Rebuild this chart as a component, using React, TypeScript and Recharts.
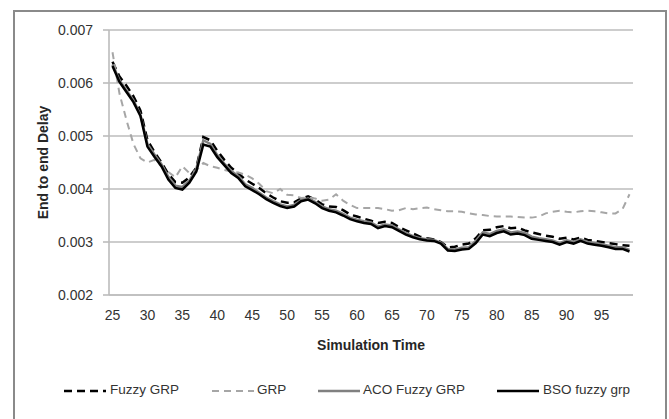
import { LineChart, Line, XAxis, YAxis, CartesianGrid, Legend } from 'recharts'

const times = [
  25, 26, 27, 28, 29, 30, 31, 32, 33, 34, 35, 36, 37, 38, 39, 40, 41, 42, 43, 44, 45, 46, 47, 48, 49,
  50, 51, 52, 53, 54, 55, 56, 57, 58, 59, 60, 61, 62, 63, 64, 65, 66, 67, 68, 69, 70, 71, 72, 73, 74,
  75, 76, 77, 78, 79, 80, 81, 82, 83, 84, 85, 86, 87, 88, 89, 90, 91, 92, 93, 94, 95, 96, 97, 98, 99,
]

const fuzzyGrp = [
  0.0064, 0.00612, 0.00595, 0.00575, 0.00548, 0.00492, 0.0047, 0.0045, 0.00428, 0.00413,
  0.00412, 0.00422, 0.0044, 0.00498, 0.00492, 0.00472, 0.00455, 0.0044, 0.0043, 0.00418,
  0.0041, 0.00402, 0.00392, 0.00384, 0.00377, 0.00374, 0.00375, 0.00382, 0.00386, 0.0038,
  0.00371, 0.00367, 0.00366, 0.0036, 0.00352, 0.00348, 0.00344, 0.0034, 0.00336, 0.00338,
  0.00336, 0.00328, 0.00322, 0.00316, 0.0031, 0.00307, 0.00305, 0.003, 0.0029, 0.00291,
  0.00295, 0.00297, 0.00307, 0.00322, 0.00323, 0.00328, 0.0033, 0.00326, 0.00327, 0.00322,
  0.00318, 0.00315, 0.00312, 0.0031, 0.00306, 0.00308, 0.00305, 0.00308, 0.00304, 0.00302,
  0.003, 0.00298, 0.00296, 0.00294, 0.00293,
]

const grp = [
  0.00658, 0.0058, 0.0053, 0.00485, 0.00458, 0.0045, 0.00455, 0.00443, 0.00432, 0.00422,
  0.00443, 0.0043, 0.00435, 0.00449, 0.00443, 0.0044, 0.00436, 0.00433, 0.00431, 0.00427,
  0.0042, 0.0041, 0.00396, 0.00392, 0.004, 0.00389, 0.00388, 0.00383, 0.00384, 0.00382,
  0.00378, 0.0038, 0.0039, 0.00378, 0.0037, 0.00364, 0.00364, 0.00364, 0.00364, 0.00362,
  0.00359, 0.0036, 0.00364, 0.00362, 0.00364, 0.00365, 0.00362, 0.0036, 0.00358, 0.00358,
  0.00357, 0.00354, 0.00352, 0.00351, 0.00349, 0.00348, 0.00348, 0.00348, 0.00347, 0.00346,
  0.00346, 0.00348, 0.00354, 0.00357, 0.00359, 0.00357, 0.00356, 0.00358, 0.00359, 0.00358,
  0.00356, 0.00354, 0.00354, 0.00362, 0.0039,
]

const acoFuzzyGrp = [
  0.00635, 0.00605, 0.00586, 0.00567, 0.0054, 0.00485, 0.00465, 0.00447, 0.00423, 0.00406,
  0.00404, 0.00416, 0.00438, 0.00492, 0.00485, 0.00464, 0.00448, 0.00434, 0.00424, 0.00409,
  0.00402, 0.00393, 0.00384, 0.00377, 0.00371, 0.00367, 0.0037, 0.00379, 0.00382, 0.00376,
  0.00367, 0.00362, 0.00359, 0.00353, 0.00346, 0.00342, 0.00339, 0.00337, 0.00329, 0.00333,
  0.00331, 0.00324, 0.00317, 0.00311, 0.00307, 0.00305, 0.00304, 0.00299, 0.00287, 0.00286,
  0.00289, 0.0029, 0.00302, 0.00318, 0.00315, 0.00321, 0.00324, 0.00318, 0.0032, 0.00317,
  0.0031, 0.00307, 0.00305, 0.00303, 0.00298, 0.00303, 0.003, 0.00305, 0.003, 0.00298,
  0.00296, 0.00293, 0.0029, 0.0029, 0.00285,
]

const bsoFuzzyGrp = [
  0.00632, 0.00602, 0.00583, 0.00564, 0.00538, 0.0048, 0.00461, 0.00443, 0.00418, 0.00402,
  0.00399, 0.00412, 0.00433, 0.00484, 0.0048, 0.0046, 0.00445, 0.0043, 0.00421, 0.00405,
  0.00398, 0.0039, 0.00381, 0.00374, 0.00368, 0.00364, 0.00367, 0.00377, 0.0038, 0.00373,
  0.00364, 0.00359, 0.00356, 0.0035, 0.00343, 0.00339, 0.00336, 0.00334, 0.00326, 0.0033,
  0.00328, 0.00321, 0.00314, 0.00309, 0.00305, 0.00303, 0.00302, 0.00297, 0.00284, 0.00283,
  0.00286, 0.00287, 0.00298, 0.00314, 0.00311, 0.00317, 0.0032, 0.00314, 0.00316, 0.00313,
  0.00306, 0.00304, 0.00302, 0.003, 0.00295, 0.003, 0.00297, 0.00302, 0.00297, 0.00295,
  0.00293, 0.0029, 0.00287, 0.00287, 0.00282,
]

const yTicks = [0.002, 0.003, 0.004, 0.005, 0.006, 0.007]

const series = [
  { key: 'fuzzy', name: 'Fuzzy GRP', color: '#000000', width: 2.5, dash: '8 5' },
  { key: 'grp', name: 'GRP', color: '#a6a6a6', width: 2, dash: '7 5' },
  { key: 'aco', name: 'ACO Fuzzy GRP', color: '#808080', width: 2.5, dash: undefined },
  { key: 'bso', name: 'BSO fuzzy grp', color: '#000000', width: 2.5, dash: undefined },
]

const data = times.map((t, i) => ({
  t,
  fuzzy: fuzzyGrp[i],
  grp: grp[i],
  aco: acoFuzzyGrp[i],
  bso: bsoFuzzyGrp[i],
}))

const FONT = "'Liberation Sans', Arial, sans-serif"

// x offsets of each legend entry (line sample start, text start)
const legendPos = [
  [49, 95],
  [197, 242],
  [303, 348],
  [482, 528],
]

function LegendRow() {
  return (
    <div style={{ position: 'relative', width: 650, height: 30 }}>
      {series.map((s, i) => (
        <div key={s.key}>
          <svg
            width={44}
            height={10}
            style={{ position: 'absolute', left: legendPos[i][0], top: 10 }}
          >
            <line
              x1={0}
              y1={5}
              x2={42}
              y2={5}
              stroke={s.color}
              strokeWidth={s.width}
              strokeDasharray={s.dash}
            />
          </svg>
          <span
            style={{
              position: 'absolute',
              left: legendPos[i][1],
              top: 6,
              fontFamily: FONT,
              fontSize: 13.5,
              color: '#333333',
              whiteSpace: 'nowrap',
              lineHeight: '16px',
            }}
          >
            {s.name}
          </span>
        </div>
      ))}
    </div>
  )
}

export default function App() {
  return (
    <div
      style={{
        position: 'absolute',
        left: 13,
        top: 10,
        width: 654,
        height: 420,
        border: '2px solid #8a8a8a',
        boxSizing: 'border-box',
        background: '#fff',
      }}
    >
      <LineChart
        width={650}
        height={416}
        data={data}
        margin={{ top: 18, right: 32, bottom: 41, left: 0 }}
      >
        <CartesianGrid vertical={false} stroke="#bcbcbc" strokeWidth={1.6} />
        <XAxis
          dataKey="t"
          type="category"
          scale="point"
          interval={4}
          padding={{ left: 3.5, right: 3.5 }}
          tickLine={false}
          tickSize={0}
          tickMargin={15}
          axisLine={{ stroke: '#bcbcbc', strokeWidth: 1.6 }}
          tick={{ fontSize: 14, fill: '#333333', fontFamily: FONT }}
          height={62}
          label={{
            value: 'Simulation Time',
            position: 'insideBottom',
            offset: 7,
            style: { fontSize: 14, fontWeight: 'bold', fill: '#262626', fontFamily: FONT },
          }}
        />
        <YAxis
          type="number"
          domain={[0.002, 0.007]}
          ticks={yTicks}
          tickFormatter={(v: number) => v.toFixed(3)}
          width={94}
          tickSize={6}
          tickMargin={10}
          tickLine={{ stroke: '#bcbcbc', strokeWidth: 1.6 }}
          axisLine={{ stroke: '#bcbcbc', strokeWidth: 1.6 }}
          tick={{ fontSize: 14, fill: '#333333', fontFamily: FONT }}
          label={{
            value: 'End to end Delay',
            angle: -90,
            position: 'insideLeft',
            offset: 28,
            style: { textAnchor: 'middle', fontSize: 14, fontWeight: 'bold', fill: '#262626', fontFamily: FONT },
          }}
        />
        <Legend
          verticalAlign="bottom"
          content={<LegendRow />}
          wrapperStyle={{ position: 'absolute', left: 0, top: 364, width: 650, height: 30 }}
        />
        {series.map((s) => (
          <Line
            key={s.key}
            type="linear"
            dataKey={s.key}
            name={s.name}
            stroke={s.color}
            strokeWidth={s.width}
            strokeDasharray={s.dash}
            dot={false}
            activeDot={false}
            isAnimationActive={false}
          />
        ))}
      </LineChart>
    </div>
  )
}
